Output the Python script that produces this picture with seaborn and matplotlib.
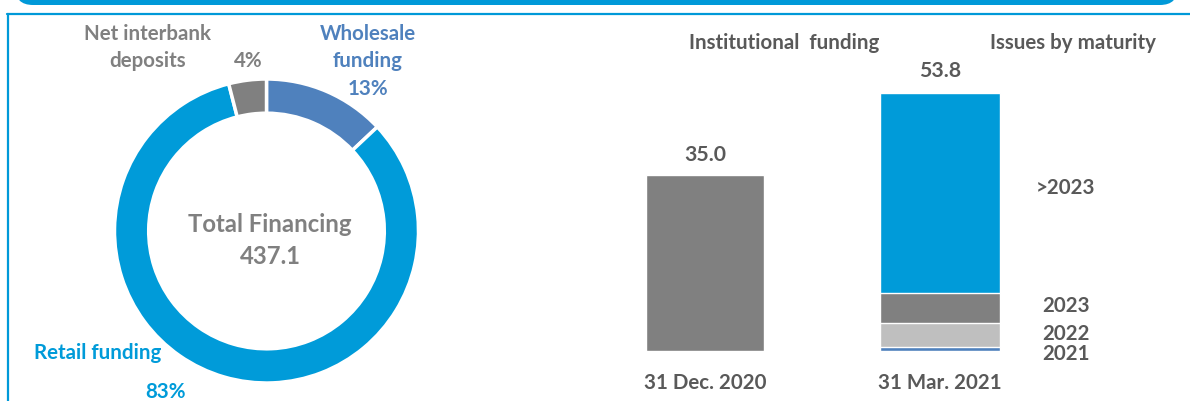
import numpy as np
import pandas as pd
import seaborn as sns
import matplotlib.pyplot as plt
from matplotlib.patches import FancyBboxPatch
from matplotlib.lines import Line2D
from matplotlib.transforms import IdentityTransform

# DATOS
# ----------------------------------------
fuentes = ["Wholesale funding", "Retail funding", "Net interbank deposits"]
fuentes_pct = [13, 83, 4]
total_financiacion = 437.1

fechas = ["31 Dec. 2020", "31 Mar. 2021"]
institucional_dic = [35.0]
vencimientos = ["2021", "2022", "2023", ">2023"]
vencimientos_mar = [0.8, 5.0, 6.3, 41.7]

AZUL = "#009BD9"
AZUL_OSC = "#4F81BD"
GRIS = "#808080"
GRIS_CLARO = "#BFBFBF"
TEXTO = "#595959"

sns.set_theme(style="white")
plt.rcParams["font.family"] = ["Lato", "DejaVu Sans"]

W, H = 1190, 401
fig = plt.figure(figsize=(W / 100, H / 100), dpi=100)


def caja(x, y, w, h):
    # pixeles (arriba-izquierda) -> fraccion de figura
    return [x / W, 1 - (y + h) / H, w / W, h / H]


def texto(x, y, s, color=TEXTO, size=14.8):
    fig.text(x / W, 1 - y / H, s, color=color, fontsize=size,
             fontweight="bold", ha="center", va="center")


# MARCO
# ----------------------------------------
fig.patches.append(FancyBboxPatch((15, H - 5), 1163, 40, boxstyle="round,pad=0,rounding_size=18",
                                  facecolor="#0099D8", edgecolor="none",
                                  transform=IdentityTransform(), figure=fig))
fig.lines.append(Line2D([7 / W, 1], [1 - 14 / H, 1 - 14 / H], color="#0099D8", lw=1.6,
                        transform=fig.transFigure, figure=fig))
fig.lines.append(Line2D([8 / W, 8 / W], [1 - 14 / H, 0], color="#0099D8", lw=1.6,
                        transform=fig.transFigure, figure=fig))

# DONA
# ----------------------------------------
ax_pie = fig.add_axes(caja(266.5 - 152, 231 - 152, 304, 304))
ax_pie.pie(fuentes_pct, colors=[AZUL_OSC, AZUL, GRIS], startangle=90, counterclock=False,
           radius=1, wedgeprops=dict(width=0.225, edgecolor="white", linewidth=2.5))
ax_pie.set_xlim(-1, 1)
ax_pie.set_ylim(-1, 1)
ax_pie.set_aspect("equal")
ax_pie.axis("off")

texto(270, 225, "Total Financing", color=GRIS, size=17.2)
texto(270, 257, f"{total_financiacion:.1f}", color=GRIS, size=17.2)

texto(148, 34, "Net interbank", color=GRIS)
texto(148, 61, "deposits", color=GRIS)
texto(248, 61, f"{fuentes_pct[2]}%", color=GRIS)
texto(368, 34, "Wholesale", color=AZUL_OSC)
texto(368, 61, "funding", color=AZUL_OSC)
texto(368, 89, f"{fuentes_pct[0]}%", color=AZUL_OSC)
texto(98, 353, "Retail funding", color=AZUL)
texto(166, 392, f"{fuentes_pct[1]}%", color=AZUL)

# BARRAS
# ----------------------------------------
ax_dic = fig.add_axes(caja(630, 51, 150, 300))
df_dic = pd.DataFrame({"fecha": [fechas[0]], "valor": institucional_dic})
sns.barplot(data=df_dic, x="fecha", y="valor", color=GRIS, width=118 / 150,
            saturation=1, errorbar=None, ax=ax_dic)
ax_dic.set_ylim(0, 59.7)
ax_dic.bar_label(ax_dic.containers[0], fmt="%.1f", padding=7, fontsize=15.3,
                 color=TEXTO, fontweight="bold")

ax_mar = fig.add_axes(caja(865, 51, 150, 300))
acum = np.cumsum(vencimientos_mar)
df_mar = pd.DataFrame({"fecha": fechas[1], "tramo": vencimientos, "acum": acum})
colores_tramo = [AZUL_OSC, GRIS_CLARO, GRIS, AZUL]
# se dibuja del acumulado mayor al menor para simular el apilado
for i in reversed(range(len(vencimientos))):
    sns.barplot(data=df_mar.iloc[[i]], x="fecha", y="acum", color=colores_tramo[i],
                width=0.8, saturation=1, errorbar=None, ax=ax_mar)
ax_mar.set_ylim(0, 62.6)
ax_mar.bar_label(ax_mar.containers[0], fmt="%.1f", padding=9, fontsize=15.3,
                 color=TEXTO, fontweight="bold")

for ax in (ax_dic, ax_mar):
    for s in ax.spines.values():
        s.set_visible(False)
    ax.set_yticks([])
    ax.set_xlabel("")
    ax.set_ylabel("")
    ax.tick_params(axis="x", length=0, pad=16)
    for t in ax.get_xticklabels():
        t.set_fontsize(14.8)
        t.set_fontweight("bold")
        t.set_color(TEXTO)

texto(784, 43, "Institutional  funding")
texto(1073, 43, "Issues by maturity")
for tramo, y in zip(vencimientos, [354, 334, 306, 188]):
    texto(1066, y, tramo)

fig.savefig("out.png", dpi=100)
